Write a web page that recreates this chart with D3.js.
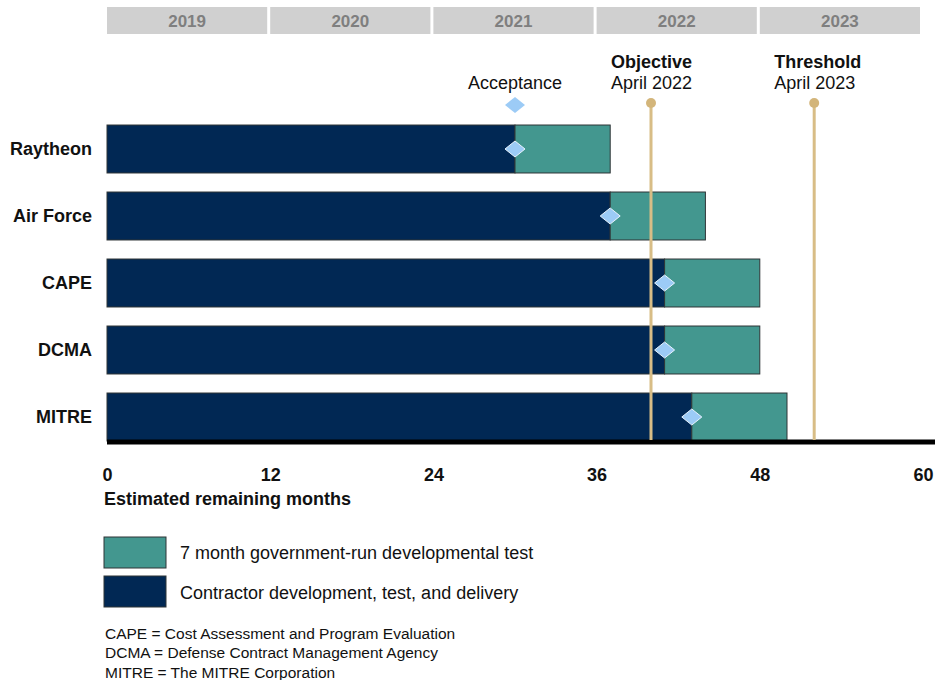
<!DOCTYPE html>
<html><head><meta charset="utf-8">
<script src="https://cdn.jsdelivr.net/npm/d3@7/dist/d3.min.js"></script>
<style>
html,body{margin:0;padding:0;background:#fff;}
svg{display:block;font-family:"Liberation Sans",Arial,Helvetica,sans-serif;}
</style></head>
<body>
<svg id="chart" width="948" height="680"></svg>
<script>
// ---- data ----
const categories = ["Raytheon", "Air Force", "CAPE", "DCMA", "MITRE"];
const contractorMonths = [30, 37, 41, 41, 43];   // end of contractor development (months)
const testMonths = [7, 7, 7, 7, 7];              // government-run developmental test
const years = ["2019", "2020", "2021", "2022", "2023"];
const yearStartMonths = [0, 12, 24, 36, 48];
const xTicks = [0, 12, 24, 36, 48, 60];
const milestoneNames = ["Objective", "Threshold"];
const milestoneDates = ["April 2022", "April 2023"];
const milestoneMonths = [40, 52];
const acceptanceLabel = "Acceptance";
const legendLabels = ["7 month government-run developmental test", "Contractor development, test, and delivery"];
const footnotes = ["CAPE = Cost Assessment and Program Evaluation", "DCMA = Defense Contract Management Agency", "MITRE = The MITRE Corporation"];

// ---- styles ----
const NAVY = "#012854", TEAL = "#43978f", TAN = "#d8bd86", DIAMOND = "#9ccbf6", EDGE = "#2e3436";

const svg = d3.select("#chart");
const x = d3.scaleLinear().domain([0, 60]).range([107, 923]);
const y = d3.scaleBand().domain(categories).range([115.5, 450.5]).paddingInner(0.284).paddingOuter(0.142);

// year header
const yr = svg.append("g");
years.forEach((yy, i) => {
  const s = yearStartMonths[i];
  yr.append("rect").attr("x", x(s)).attr("y", 7).attr("width", x(s + 12) - x(s) - 3).attr("height", 27).attr("fill", "#d0d0d0");
  yr.append("text").attr("x", (x(s) + x(s + 12) - 3) / 2).attr("y", 27).attr("text-anchor", "middle")
    .attr("font-size", 17).attr("font-weight", "bold").attr("fill", "#7f7f7f").text(yy);
});

// bars
const rows = categories.map((c, i) => ({ c, a: contractorMonths[i], b: contractorMonths[i] + testMonths[i] }));
const g = svg.append("g");
g.selectAll("rect.navy").data(rows).join("rect").attr("class", "navy")
  .attr("x", x(0)).attr("y", d => y(d.c)).attr("width", d => x(d.a) - x(0)).attr("height", y.bandwidth())
  .attr("fill", NAVY).attr("stroke", EDGE).attr("stroke-width", 1);
g.selectAll("rect.teal").data(rows).join("rect").attr("class", "teal")
  .attr("x", d => x(d.a)).attr("y", d => y(d.c)).attr("width", d => x(d.b) - x(d.a)).attr("height", y.bandwidth())
  .attr("fill", TEAL).attr("stroke", EDGE).attr("stroke-width", 1);

// category labels
svg.append("g").selectAll("text").data(categories).join("text")
  .attr("x", 92).attr("y", d => y(d) + y.bandwidth() / 2 + 6).attr("text-anchor", "end")
  .attr("font-size", 18).attr("font-weight", "bold").attr("fill", "#111").text(d => d);

// axis line
svg.append("line").attr("x1", x(0)).attr("x2", 935).attr("y1", 442).attr("y2", 442)
  .attr("stroke", "#000").attr("stroke-width", 5);

// milestone lines
const ms = svg.append("g");
milestoneMonths.forEach((m, i) => {
  ms.append("line").attr("x1", x(m)).attr("x2", x(m)).attr("y1", 103).attr("y2", 440)
    .attr("stroke", TAN).attr("stroke-width", 3);
  ms.append("circle").attr("cx", x(m)).attr("cy", 103).attr("r", 5).attr("fill", "#d3b57a");
  ms.append("text").attr("x", x(m) - 40).attr("y", 68).attr("font-size", 18).attr("font-weight", "bold").attr("fill", "#111").text(milestoneNames[i]);
  ms.append("text").attr("x", x(m) - 40).attr("y", 89).attr("font-size", 18).attr("fill", "#111").text(milestoneDates[i]);
});

// diamonds
const diamond = (cx, cy) => `M${cx},${cy - 8}L${cx + 10},${cy}L${cx},${cy + 8}L${cx - 10},${cy}Z`;
svg.append("g").selectAll("path").data(rows).join("path")
  .attr("d", d => diamond(x(d.a), y(d.c) + y.bandwidth() / 2))
  .attr("fill", DIAMOND).attr("stroke", "#e8f3fd").attr("stroke-width", 1);

// acceptance key
svg.append("path").attr("d", diamond(x(contractorMonths[0]), 105)).attr("fill", DIAMOND);
svg.append("text").attr("x", x(contractorMonths[0])).attr("y", 89).attr("text-anchor", "middle")
  .attr("font-size", 18).attr("fill", "#111").text(acceptanceLabel);

// x axis ticks
const ax = svg.append("g").attr("transform", "translate(0,465)")
  .call(d3.axisBottom(x).tickValues(xTicks).tickSize(0).tickFormat(d3.format("d")));
ax.select(".domain").remove();
ax.selectAll("text").attr("font-size", 18).attr("font-weight", "bold").attr("fill", "#111")
  .attr("font-family", "Liberation Sans, Arial, sans-serif");
svg.append("text").attr("x", 104).attr("y", 505).attr("font-size", 18).attr("font-weight", "bold").attr("fill", "#111")
  .text("Estimated remaining months");

// legend
const lg = svg.append("g");
[TEAL, NAVY].forEach((c, i) => {
  lg.append("rect").attr("x", 104).attr("y", 537 + i * 39).attr("width", 62).attr("height", 31)
    .attr("fill", c).attr("stroke", EDGE).attr("stroke-width", 1);
  lg.append("text").attr("x", 180).attr("y", 559 + i * 39.5).attr("font-size", 18).attr("fill", "#111").text(legendLabels[i]);
});

// footnotes
svg.append("g").selectAll("text").data(footnotes).join("text")
  .attr("x", 105).attr("y", (d, i) => 638.5 + i * 19.5).attr("font-size", 15.5).attr("fill", "#111").text(d => d);
</script>
</body></html>
